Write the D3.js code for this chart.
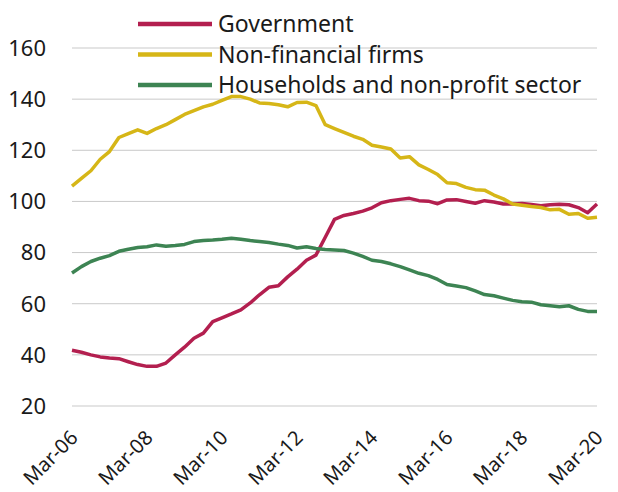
<!DOCTYPE html>
<html>
  <head>
    <meta charset="utf-8">
    <title>Debt by sector</title>
    <script src="https://cdn.jsdelivr.net/npm/d3@7"></script>
    <style type="text/css">
    body { margin: 0; background: #fff; }
    svg { display: block; font-family: "Noto Sans", sans-serif; }
    .grid line { stroke: #c9c9c9; stroke-width: 1px; }
    .ylab, .xlab { fill: #1a1a1a; }
    .legend text { fill: #1a1a1a; }
    </style>
  </head>
  <body>
  <script type="text/javascript">

    // quarterly, Mar-06 .. Mar-20
    var quarters = d3.timeMonth.range(new Date(2006, 2, 1), new Date(2020, 3, 1), 3);

    var government = [
      41.8, 41, 40, 39.2, 38.8, 38.5, 37.3, 36.2, 35.5, 35.5,
      36.8, 40, 43, 46.5, 48.5, 53, 54.5, 56, 57.6, 60.3,
      63.5, 66.4, 67, 70.5, 73.5, 77, 79, 86, 93, 94.5,
      95.3, 96.2, 97.5, 99.5, 100.3, 100.8, 101.2, 100.3, 100.1, 99.1,
      100.6, 100.7, 100, 99.3, 100.3, 99.8, 99, 99, 99.2, 98.8,
      98.3, 98.7, 98.9, 98.7, 97.6, 95.6, 99
    ];

    var nonFinancial = [
      106, 109, 112, 116.5, 119.5, 125, 126.5, 128, 126.6, 128.5,
      130, 132, 134, 135.5, 137, 138, 139.5, 141, 141, 140,
      138.5, 138.3, 137.8, 137, 138.7, 138.8, 137.5, 130, 128.5, 127,
      125.5, 124.3, 122, 121.3, 120.5, 117, 117.5, 114.3, 112.5, 110.5,
      107.3, 107, 105.5, 104.6, 104.4, 102.5, 101, 99, 98.5, 98,
      97.6, 96.7, 96.9, 95, 95.3, 93.4, 93.8
    ];

    var households = [
      72, 74.5, 76.5, 77.8, 78.8, 80.5, 81.3, 82, 82.3, 83,
      82.5, 82.8, 83.2, 84.3, 84.7, 84.9, 85.2, 85.6, 85.2, 84.7,
      84.3, 83.9, 83.3, 82.8, 81.8, 82.3, 81.6, 81.2, 81, 80.8,
      79.8, 78.5, 77, 76.5, 75.6, 74.5, 73.2, 71.9, 71, 69.5,
      67.5, 66.9, 66.3, 65, 63.6, 63.1, 62.2, 61.3, 60.8, 60.6,
      59.6, 59.2, 58.8, 59.2, 57.8, 57, 57
    ];

    var yTicks = [20, 40, 60, 80, 100, 120, 140, 160];
    var xTickYears = [2006, 2008, 2010, 2012, 2014, 2016, 2018, 2020];

    var series = [
      {name: "Government",                       values: government,   color: "#b31f4f"},
      {name: "Non-financial firms",              values: nonFinancial, color: "#d6b617"},
      {name: "Households and non-profit sector", values: households,   color: "#3d8453"}
    ];

    var width = 618, height = 492;
    var margin = {top: 48, right: 21, bottom: 86, left: 72};

    var svg = d3.select("body").append("svg")
      .attr("width", width)
      .attr("height", height);

    var x = d3.scaleTime()
      .domain([quarters[0], quarters[quarters.length - 1]])
      .range([margin.left, width - margin.right]);

    var y = d3.scaleLinear()
      .domain([20, 160])
      .range([height - margin.bottom, margin.top]);

    // gridlines
    svg.append("g").attr("class", "grid")
      .selectAll("line")
      .data(yTicks)
      .enter().append("line")
        .attr("x1", margin.left)
        .attr("x2", width - margin.right)
        .attr("y1", function(d){ return y(d); })
        .attr("y2", function(d){ return y(d); });

    // y labels
    svg.append("g")
      .selectAll("text")
      .data(yTicks)
      .enter().append("text")
        .attr("class", "ylab")
        .attr("x", 46)
        .attr("y", function(d){ return y(d); })
        .attr("dy", "0.36em")
        .attr("text-anchor", "end")
        .style("font-size", "22px")
        .text(function(d){ return d; });

    // x labels (rotated, baseline end just right of the tick)
    var fmt = d3.timeFormat("%b-%y");
    svg.append("g")
      .selectAll("text")
      .data(xTickYears.map(function(yr){ return new Date(yr, 2, 1); }))
      .enter().append("text")
        .attr("class", "xlab")
        .attr("transform", function(d){
          return "translate(" + (x(d) + 7) + "," + 439 + ") rotate(-45)";
        })
        .attr("text-anchor", "end")
        .style("font-size", "20px")
        .text(function(d){ return fmt(d); });

    var line = d3.line()
      .x(function(d, i){ return x(quarters[i]); })
      .y(function(d){ return y(d); });

    svg.append("g")
      .selectAll("path")
      .data(series)
      .enter().append("path")
        .attr("fill", "none")
        .attr("stroke", function(d){ return d.color; })
        .attr("stroke-width", 3.5)
        .attr("stroke-linejoin", "round")
        .attr("d", function(d){ return line(d.values); });

    // legend
    var legendY = [24, 54.5, 85];
    var legend = svg.append("g").attr("class", "legend")
      .selectAll("g")
      .data(series)
      .enter().append("g")
        .attr("transform", function(d, i){ return "translate(0," + legendY[i] + ")"; });

    legend.append("line")
      .attr("x1", 138).attr("x2", 212)
      .attr("stroke", function(d){ return d.color; })
      .attr("stroke-width", 4.5);

    legend.append("text")
      .attr("x", 218)
      .attr("dy", "0.36em")
      .style("font-size", "23px")
      .text(function(d){ return d.name; });

  </script>
  </body>
</html>
